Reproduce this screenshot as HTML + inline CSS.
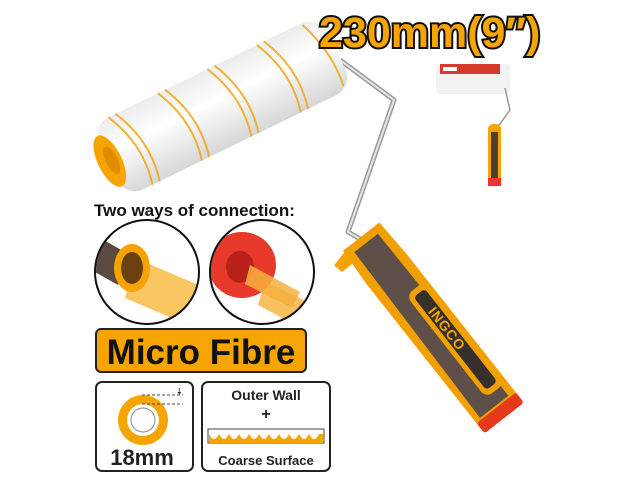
<!DOCTYPE html>
<html><head><meta charset="utf-8"><style>
html,body{margin:0;padding:0;background:#fff;width:640px;height:480px;overflow:hidden}
svg{display:block}
text{font-family:"Liberation Sans",Arial,sans-serif;font-weight:bold}
</style></head><body>
<svg width="640" height="480" viewBox="0 0 640 480" xmlns="http://www.w3.org/2000/svg">
<defs>
<linearGradient id="fur" x1="0" y1="0" x2="0" y2="1">
<stop offset="0" stop-color="#ececec"/><stop offset="0.4" stop-color="#ffffff"/><stop offset="1" stop-color="#d6d6d6"/>
</linearGradient>
<clipPath id="c1"><circle cx="147" cy="272" r="51"/></clipPath>
<clipPath id="c2"><circle cx="262" cy="272" r="51"/></clipPath>
</defs>

<!-- wire -->
<polyline points="340,60 394,100 348,232 362,240" fill="none" stroke="#9a9a9a" stroke-width="5" stroke-linejoin="round"/>
<polyline points="340,60 394,100 348,232 362,240" fill="none" stroke="#e6e6e6" stroke-width="2" stroke-linejoin="round"/>

<!-- roller -->
<g transform="translate(108,162) rotate(-26)">
<rect x="0" y="-40" width="254" height="80" rx="20" fill="url(#fur)"/>
<g stroke="#f0a818" stroke-width="2" fill="none" opacity="0.85">
<path d="M20,-40 Q40,0 30,40"/><path d="M28,-40 Q48,0 38,40"/>
<path d="M75,-40 Q95,0 85,40"/><path d="M83,-40 Q103,0 93,40"/>
<path d="M130,-40 Q150,0 140,40"/><path d="M138,-40 Q158,0 148,40"/>
<path d="M185,-40 Q205,0 195,40"/><path d="M193,-40 Q213,0 203,40"/>
<path d="M235,-38 Q250,0 245,35"/>
</g>
<ellipse cx="2" cy="0" rx="12" ry="28" fill="#f6a400"/>
<ellipse cx="4" cy="0" rx="6" ry="15" fill="#e08e00"/>
</g>

<!-- handle -->
<g transform="translate(362,236) rotate(-38)">
<path d="M-24,0 L22,0 L24,40 L25,226 L-25,226 L-26,40 Z" fill="#f2a000"/>
<path d="M-16,8 L14,8 L17,216 L-19,216 Z" fill="#5e5048"/>
<rect x="-2" y="74" width="24" height="130" rx="8" fill="#f2a000"/>
<rect x="3" y="80" width="14" height="118" rx="4" fill="#36302c"/>
<text transform="translate(5,100) rotate(90)" font-size="14" fill="#f5a500" letter-spacing="1">INGCO</text>
<rect x="-25" y="218" width="50" height="13" rx="3" fill="#e53a1a"/>
<path d="M-24,2 L-40,6 L-38,16 L-22,16 Z" fill="#f6a400"/>
</g>

<!-- title -->
<text x="319" y="47" font-size="43" fill="#f6a400" stroke="#111" stroke-width="4" paint-order="stroke">230mm(9″)</text>

<!-- small product -->
<g>
<rect x="436" y="64" width="74" height="30" rx="4" fill="#f2f2f2"/>
<rect x="440" y="64" width="60" height="10" fill="#d63a2a"/>
<rect x="443" y="67" width="14" height="4" fill="#fff"/>
<polyline points="505,88 510,110 497,128" fill="none" stroke="#999" stroke-width="1.5"/>
<rect x="488" y="124" width="13" height="62" rx="5" fill="#f6a400"/>
<rect x="491" y="132" width="7" height="46" fill="#4a3e36"/>
<rect x="488" y="178" width="13" height="8" fill="#e33"/>
</g>

<text x="94" y="216" font-size="17" fill="#111">Two ways of connection:</text>

<!-- circle 1 -->
<g clip-path="url(#c1)">
<path d="M95,235 L130,255 L118,285 L95,272 Z" fill="#5a4a40"/>
<path d="M135,258 L215,292 L200,330 L125,298 Z" fill="#f8c050" opacity="0.9"/>
<ellipse cx="132" cy="268" rx="18" ry="24" fill="#f5a300"/>
<ellipse cx="132" cy="268" rx="11" ry="16" fill="#6a4010"/>
</g>
<circle cx="147" cy="272" r="52" fill="none" stroke="#111" stroke-width="2"/>
<!-- circle 2 -->
<g clip-path="url(#c2)">
<path d="M265,282 L315,305 L305,330 L258,305 Z" fill="#f8c060"/>
<ellipse cx="242" cy="265" rx="34" ry="33" fill="#e83a2a"/>
<ellipse cx="240" cy="267" rx="14" ry="16" fill="#b8201a"/>
<path d="M250,265 L300,292 L292,308 L245,284 Z" fill="#f6b040" opacity="0.85"/>
</g>
<circle cx="262" cy="272" r="52" fill="none" stroke="#111" stroke-width="2"/>

<!-- micro fibre -->
<rect x="96" y="329" width="210" height="43" rx="5" fill="#f6a400" stroke="#222" stroke-width="2"/>
<text x="201" y="364" font-size="35" fill="#111" text-anchor="middle">Micro Fibre</text>

<!-- box 1 -->
<rect x="96" y="382" width="97" height="89" rx="6" fill="#fff" stroke="#222" stroke-width="2"/>
<circle cx="143" cy="420" r="25" fill="#f6a400"/>
<circle cx="143" cy="420" r="16" fill="#fff"/>
<circle cx="143" cy="420" r="12" fill="#fff" stroke="#888" stroke-width="1"/>
<line x1="142" y1="395" x2="183" y2="395" stroke="#444" stroke-dasharray="3,2"/>
<line x1="142" y1="404" x2="183" y2="404" stroke="#444" stroke-dasharray="3,2"/>
<text x="176" y="394" font-size="8" fill="#333" font-weight="normal">⇣</text>
<text x="142" y="465" font-size="22" fill="#222" text-anchor="middle">18mm</text>

<!-- box 2 -->
<rect x="202" y="382" width="128" height="89" rx="6" fill="#fff" stroke="#222" stroke-width="2"/>
<text x="266" y="400" font-size="14" fill="#222" text-anchor="middle">Outer Wall</text>
<text x="266" y="419" font-size="16" fill="#222" text-anchor="middle" font-weight="normal">+</text>
<rect x="208" y="429" width="116" height="14" fill="#fff" stroke="#444" stroke-width="1"/>
<path d="M209,443 L209,434 Q214,444 219,434 Q224,444 229,434 Q234,444 239,434 Q244,444 249,434 Q254,444 259,434 Q264,444 269,434 Q274,444 279,434 Q284,444 289,434 Q294,444 299,434 Q304,444 309,434 Q314,444 319,434 L323,434 L323,443 Z" fill="#f6a400"/>
<text x="266" y="465" font-size="13" fill="#222" text-anchor="middle">Coarse Surface</text>
</svg>
</body></html>
